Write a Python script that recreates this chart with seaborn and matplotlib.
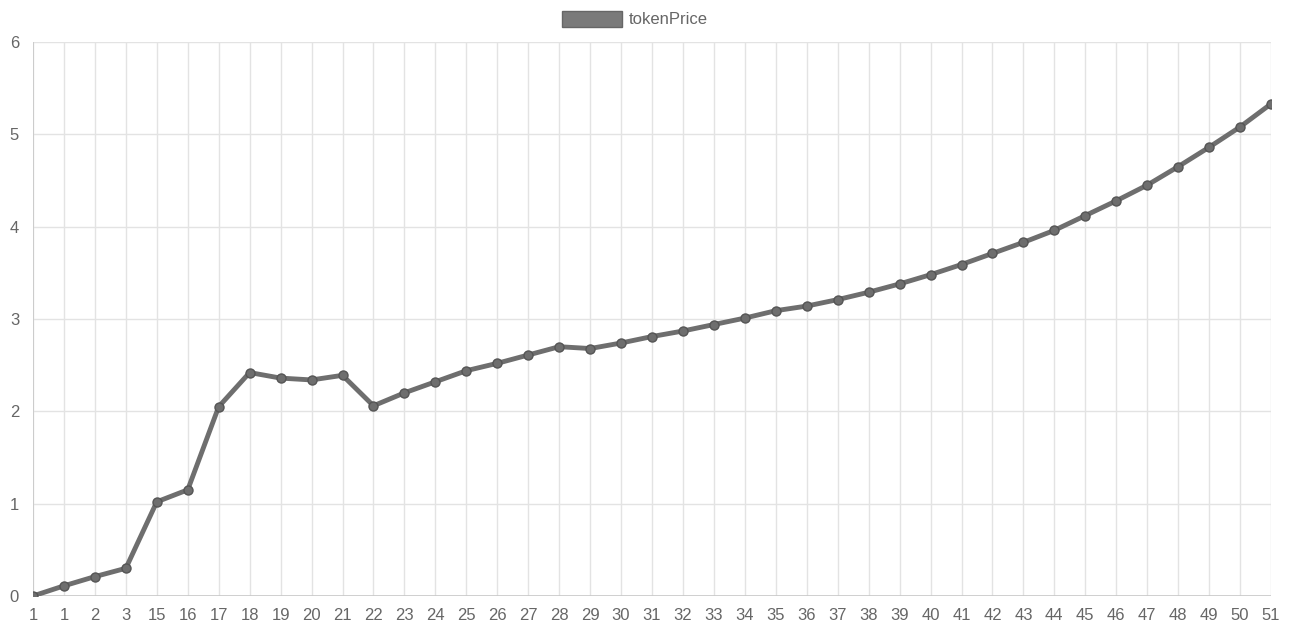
import matplotlib
matplotlib.use("Agg")
import matplotlib.pyplot as plt
import seaborn as sns
import pandas as pd
from matplotlib.patches import Patch

# x labels as shown on the chart (category axis)
labels = ["1", "1", "2", "3", "15", "16", "17", "18", "19", "20", "21", "22",
          "23", "24", "25", "26", "27", "28", "29", "30", "31", "32", "33",
          "34", "35", "36", "37", "38", "39", "40", "41", "42", "43", "44",
          "45", "46", "47", "48", "49", "50", "51"]
token_price = [0.00, 0.11, 0.21, 0.30, 1.02, 1.15, 2.05, 2.42, 2.36, 2.34,
               2.39, 2.06, 2.20, 2.32, 2.44, 2.52, 2.61, 2.70, 2.68, 2.74,
               2.81, 2.87, 2.94, 3.01, 3.09, 3.14, 3.21, 3.29, 3.38, 3.48,
               3.59, 3.71, 3.83, 3.96, 4.12, 4.28, 4.45, 4.65, 4.86, 5.08,
               5.33]

df = pd.DataFrame({"pos": range(len(labels)), "tokenPrice": token_price})

sns.set_style("white")
plt.rcParams["font.family"] = ["Liberation Sans", "DejaVu Sans"]

fig = plt.figure(figsize=(12.93, 6.27), dpi=100)
ax = fig.add_axes([33 / 1293, 1 - 596 / 627, (1271 - 33) / 1293, (596 - 42) / 627])

line_col = "#6e6e6e"
sns.lineplot(data=df, x="pos", y="tokenPrice", ax=ax, color=line_col,
             linewidth=3.5, marker="o", markersize=6.5,
             markeredgecolor="#555555", markerfacecolor=line_col,
             markeredgewidth=1, legend=False, zorder=3)

ax.set_xlim(0, len(labels) - 1)
ax.set_ylim(0, 6)
ax.set_xticks(range(len(labels)))
ax.set_xticklabels(labels)
ax.set_yticks(range(7))
ax.set_xlabel("")
ax.set_ylabel("")

ax.grid(True, color="#e3e3e3", linewidth=1)
for s in ax.spines.values():
    s.set_visible(False)
ax.axhline(0, color="#c8c8c8", linewidth=1.2, zorder=2)
ax.axvline(0, color="#c8c8c8", linewidth=1.2, zorder=2)
ax.tick_params(axis="both", length=8, color="#e3e3e3", labelsize=12,
               labelcolor="#666666", pad=2)
ax.tick_params(axis="x", pad=1)

leg = fig.legend(handles=[Patch(facecolor="#7a7a7a", edgecolor="#666666",
                                label="tokenPrice")],
                 loc="center", bbox_to_anchor=(0.491, 1 - 19 / 627), frameon=False,
                 handlelength=3.6, handleheight=1.1, fontsize=12,
                 handletextpad=0.4)
for t in leg.get_texts():
    t.set_color("#666666")

fig.savefig("out.png", dpi=100)
